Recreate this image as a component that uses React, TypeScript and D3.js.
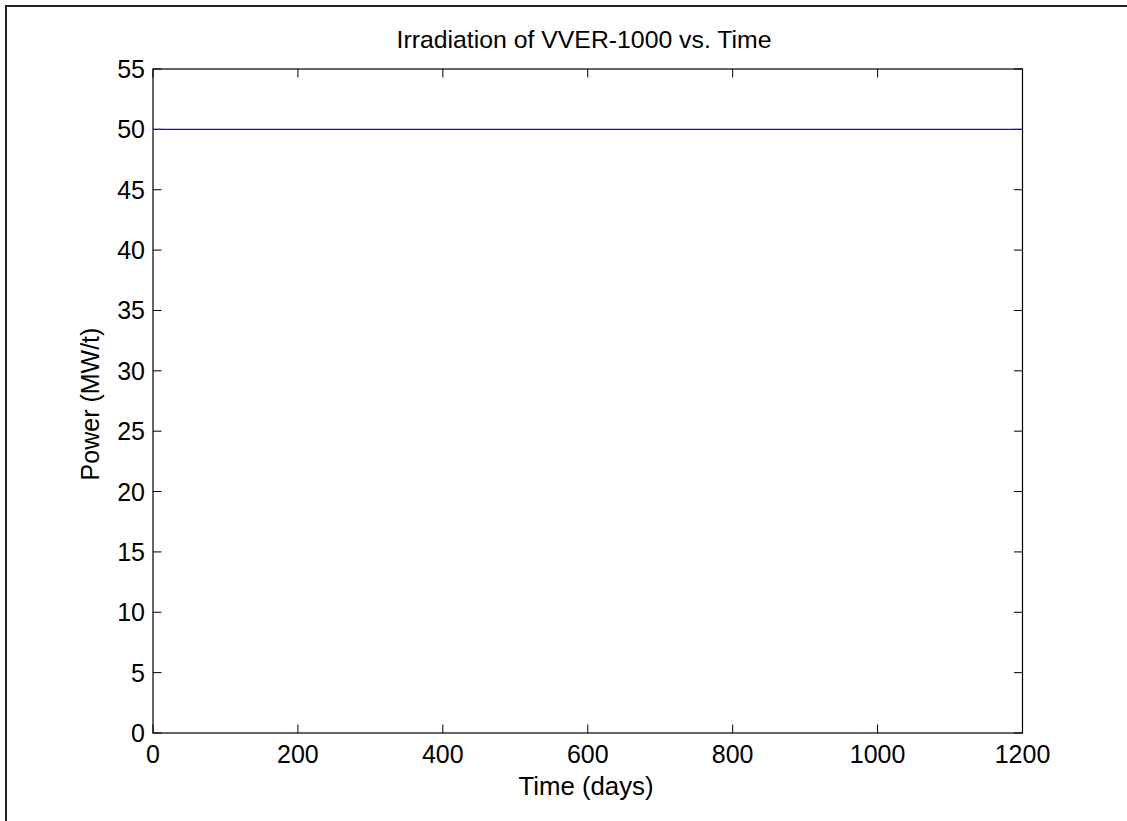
import React from "react";
import * as d3 from "d3";

const timeDays = [0, 1200];
const powerMWt = [50, 50];
const xTicks = [0, 200, 400, 600, 800, 1000, 1200];
const yTicks = [0, 5, 10, 15, 20, 25, 30, 35, 40, 45, 50, 55];
const titleText = "Irradiation of VVER-1000 vs. Time";
const xLabel = "Time (days)";
const yLabel = "Power (MW/t)";

const W = 1127;
const H = 821;
const left = 153;
const right = 1022.5;
const top = 69;
const bottom = 733;
const FONT = "Arial, 'Liberation Sans', Helvetica, sans-serif";

export default function App() {
  const x = d3.scaleLinear().domain([0, 1200]).range([left, right]);
  const y = d3.scaleLinear().domain([0, 55]).range([bottom, top]);
  const line = d3
    .line<number>()
    .x((_, i) => x(timeDays[i]))
    .y((d) => y(d));
  const tl = 8.5;
  return (
    <div style={{ position: "absolute", left: 0, top: 0 }}>
      <svg width={W} height={H} style={{ display: "block", background: "#fff" }}>
        <rect x={0} y={0} width={W} height={H} fill="#fff" />
        <rect x={6} y={6} width={W + 40} height={H + 40} fill="none" stroke="#222" strokeWidth={2} />
        <rect x={left} y={top} width={right - left} height={bottom - top} fill="#fff" stroke="#000" strokeWidth={1.2} />
        {xTicks.map((t) => (
          <g key={"x" + t}>
            <line x1={x(t)} x2={x(t)} y1={bottom} y2={bottom - tl} stroke="#000" strokeWidth={1} />
            <line x1={x(t)} x2={x(t)} y1={top} y2={top + tl} stroke="#000" strokeWidth={1} />
            <text x={x(t)} y={763} textAnchor="middle" fontFamily={FONT} fontSize={25} fill="#000">
              {t}
            </text>
          </g>
        ))}
        {yTicks.map((t) => (
          <g key={"y" + t}>
            <line x1={left} x2={left + tl} y1={y(t)} y2={y(t)} stroke="#000" strokeWidth={1} />
            <line x1={right} x2={right - tl} y1={y(t)} y2={y(t)} stroke="#000" strokeWidth={1} />
            <text x={145} y={y(t) + 9} textAnchor="end" fontFamily={FONT} fontSize={25} fill="#000">
              {t}
            </text>
          </g>
        ))}
        <path d={line(powerMWt) || ""} fill="none" stroke="#1010ee" strokeWidth={1.4} />
        <text x={584} y={48} textAnchor="middle" fontFamily={FONT} fontSize={24.8} fill="#000">
          {titleText}
        </text>
        <text x={586} y={795} textAnchor="middle" fontFamily={FONT} fontSize={25.8} fill="#000">
          {xLabel}
        </text>
        <text
          transform={`translate(99, 404) rotate(-90)`}
          textAnchor="middle"
          fontFamily={FONT}
          fontSize={25}
          fill="#000"
        >
          {yLabel}
        </text>
      </svg>
    </div>
  );
}
